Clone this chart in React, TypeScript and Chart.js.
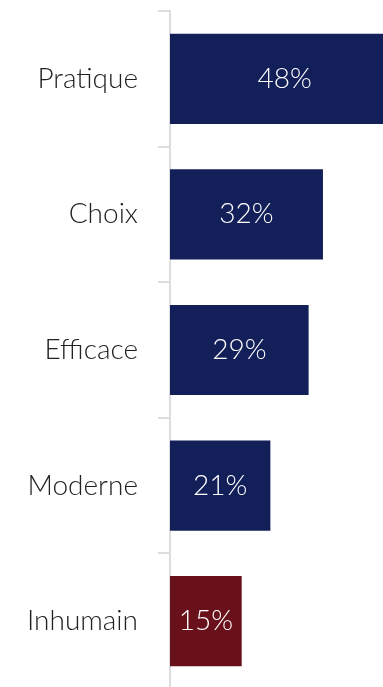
import React, { useEffect, useRef } from "react";
import { Chart, registerables } from "chart.js";

Chart.register(...registerables);

const categories = ["Pratique", "Choix", "Efficace", "Moderne", "Inhumain"];
const values = [48, 32, 29, 21, 15];
const barColors = ["#121f58", "#121f58", "#121f58", "#121f58", "#69111a"];

const FONT = "Lato, 'Open Sans', sans-serif";

const valueLabels = {
  id: "valueLabels",
  afterDatasetsDraw(chart: any) {
    const ctx = chart.ctx;
    const meta = chart.getDatasetMeta(0);
    ctx.save();
    ctx.fillStyle = "#ffffff";
    ctx.font = `300 28px ${FONT}`;
    ctx.textAlign = "center";
    ctx.textBaseline = "middle";
    meta.data.forEach((bar: any, i: number) => {
      const cx = (bar.x + bar.base) / 2;
      ctx.fillText(`${values[i]}%`, cx, bar.y);
    });
    ctx.restore();
  },
};

export default function App() {
  const ref = useRef<HTMLCanvasElement>(null);
  useEffect(() => {
    const chart = new Chart(ref.current!, {
      type: "bar",
      data: {
        labels: categories,
        datasets: [
          {
            data: values,
            backgroundColor: barColors,
            borderWidth: 0,
            barPercentage: 0.665,
            categoryPercentage: 1,
          },
        ],
      },
      options: {
        indexAxis: "y",
        responsive: false,
        animation: false,
        layout: { padding: { top: 11, bottom: 11, left: 0, right: 0 } },
        plugins: { legend: { display: false }, tooltip: { enabled: false } },
        scales: {
          x: { display: false, min: 0, max: 50 },
          y: {
            afterFit(scale: any) {
              scale.width = 170;
              scale.paddingTop = 0;
              scale.paddingBottom = 0;
            },
            grid: {
              offset: true,
              drawOnChartArea: false,
              drawTicks: true,
              tickLength: 12,
              color: "#dddddd",
              lineWidth: 2,
            },
            border: { display: true, color: "#dddddd", width: 2 },
            ticks: {
              padding: 20,
              color: "#222222",
              font: { family: FONT, size: 28, weight: "300" },
            },
          },
        },
      },
      plugins: [valueLabels],
    });
    return () => chart.destroy();
  }, []);
  return (
    <div
      style={{
        position: "fixed",
        left: 0,
        top: 0,
        width: 383,
        height: 687,
        overflow: "hidden",
        background: "#fff",
      }}
    >
      <canvas ref={ref} width={409} height={700} style={{ display: "block" }} />
    </div>
  );
}
